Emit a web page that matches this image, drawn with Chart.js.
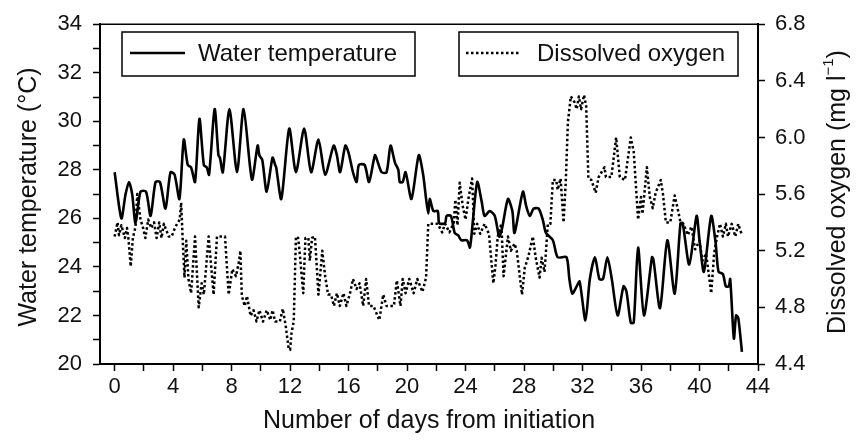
<!DOCTYPE html>
<html>
<head>
<meta charset="utf-8">
<script src="https://cdn.jsdelivr.net/npm/chart.js@4.4.1/dist/chart.umd.min.js"></script>
<style>
  html, body { margin: 0; padding: 0; background: #fff; }
  #wrap { width: 864px; height: 444px; }
</style>
</head>
<body>
<div id="wrap"><canvas id="chart" width="864" height="444"></canvas></div>
<script>
// water temperature (deg C) vs day
const tempDays = [0, 0.46, 0.75, 0.98, 1.2, 1.43, 1.77, 2.15, 2.46, 2.8, 3.1, 3.48, 3.82, 4.1, 4.43, 4.73, 5.0, 5.23, 5.5, 5.8,
  6.1, 6.3, 6.46, 6.84, 7.1, 7.2, 7.4, 7.85, 8.37, 8.82, 9.39, 9.78, 9.9, 10.1, 10.4, 10.8, 10.98, 11.05, 11.4, 11.94,
  12.4, 12.96, 13.44, 13.94, 14.4, 14.98, 15.2, 15.42, 15.78, 16.0, 16.3, 16.55, 16.7, 17.1, 17.4, 17.8, 17.95, 18.26, 18.6, 18.87,
  19.17, 19.4, 19.5, 19.7, 19.9, 20.3, 20.8, 21.1, 21.3, 21.45, 21.55, 21.8, 22.1, 22.2, 22.6, 22.7, 23.0, 23.26, 23.5, 23.7,
  24.1, 24.3, 24.5, 24.8, 25.1, 25.3, 25.65, 26.0, 26.3, 26.5, 26.9, 27.2, 27.35, 27.92, 28.15, 28.4, 28.65, 29.0, 29.3, 29.5,
  29.97, 30.3, 30.9, 31.1, 31.3, 31.6, 31.8, 32.2, 32.5, 32.85, 33.15, 33.4, 33.7, 34.0, 34.4, 34.8, 35.0, 35.3, 35.5, 35.8,
  36.2, 36.75, 36.85, 37.3, 37.8, 38.3, 38.7, 38.85, 39.3, 39.8, 40.0, 40.3, 40.8, 41.1, 41.3, 41.6, 41.8, 42.0, 42.1, 42.35,
  42.5, 42.65, 42.9];
const tempValues = [27.9, 26.0, 27.0, 27.5, 27.0, 25.8, 27.1, 27.1, 26.1, 27.5, 27.5, 26.4, 27.9, 27.8, 26.8, 29.25, 28.2, 28.1, 27.5, 30.1,
  28.2, 28.1, 27.8, 30.5, 28.6, 28.5, 27.9, 30.5, 27.9, 30.5, 27.6, 29.0, 28.6, 28.4, 27.1, 28.5, 28.2, 28.1, 26.8, 29.7,
  27.9, 29.7, 27.9, 29.25, 27.8, 29.0, 28.6, 27.9, 29.0, 28.7, 27.9, 27.5, 28.2, 28.2, 27.5, 28.6, 28.4, 27.9, 27.9, 29.0,
  28.3, 28.0, 27.5, 27.5, 27.9, 26.8, 28.6, 27.8, 26.8, 26.2, 26.8, 26.3, 26.3, 25.8, 25.8, 26.1, 26.1, 25.4, 25.3, 25.1,
  25.1, 24.8, 25.9, 27.5, 26.7, 26.1, 26.3, 26.1, 25.25, 25.6, 26.8, 26.3, 25.4, 27.1, 26.5, 26.1, 26.4, 26.4, 25.9, 25.4,
  25.1, 24.4, 24.4, 23.5, 22.9, 23.2, 23.4, 21.8, 23.5, 24.4, 23.5, 23.5, 24.4, 23.5, 22.0, 23.2, 23.0, 21.7, 21.7, 24.8,
  22.0, 24.4, 24.3, 22.3, 25.1, 22.9, 25.8, 25.8, 24.1, 26.1, 25.1, 23.8, 26.1, 25.0, 23.8, 23.7, 23.2, 23.2, 23.5, 21.05,
  22.0, 21.9, 20.5];

// dissolved oxygen (mg/l) vs day
const oxyDays = [0, 0.2, 0.3, 0.46, 0.7, 0.85, 0.95, 1.1, 1.25, 1.43, 1.55, 1.77, 1.95, 2.1, 2.3, 2.5, 2.7, 2.87, 3.05, 3.2,
  3.37, 3.7, 3.9, 4.16, 4.45, 4.55, 4.65, 4.78, 4.9, 5.05, 5.23, 5.5, 5.75, 5.95, 6.1, 6.43, 6.77, 7.0, 7.55, 7.8,
  8.05, 8.3, 8.5, 8.6, 8.7, 8.9, 9.05, 9.3, 9.5, 9.7, 9.9, 10.15, 10.4, 10.65, 10.8, 10.98, 11.3, 11.5, 11.7, 11.9,
  12.0, 12.1, 12.25, 12.4, 12.55, 12.65, 12.9, 13.05, 13.25, 13.35, 13.5, 13.7, 13.94, 14.2, 14.4, 14.6, 14.8, 15.0, 15.2, 15.4,
  15.65, 15.85, 16.1, 16.3, 16.55, 16.75, 17.0, 17.2, 17.4, 17.7, 18.1, 18.37, 18.6, 19.1, 19.3, 19.55, 19.7, 19.9, 20.15, 20.45,
  20.7, 21.05, 21.3, 21.45, 22.1, 22.4, 22.6, 22.9, 23.2, 23.3, 23.45, 23.6, 23.8, 24.0, 24.2, 24.45, 24.6, 24.8, 25.0, 25.3,
  25.6, 25.9, 26.05, 26.2, 26.45, 26.6, 26.9, 27.1, 27.35, 27.5, 27.86, 28.05, 28.3, 28.6, 28.8, 29.06, 29.2, 29.4, 29.63, 29.8,
  29.97, 30.2, 30.3, 30.5, 30.7, 30.85, 31.0, 31.2, 31.45, 31.6, 31.75, 31.9, 32.1, 32.25, 32.4, 32.6, 32.9, 33.1, 33.5, 33.6,
  33.97, 34.3, 34.55, 34.9, 35.3, 35.5, 35.8, 36.0, 36.1, 36.4, 36.6, 36.8, 37.0, 37.35, 37.5, 37.7, 38.0, 38.3, 38.5, 38.7,
  38.9, 39.2, 39.45, 39.7, 40.0, 40.2, 40.45, 40.8, 41.0, 41.2, 41.4, 41.6, 41.8, 41.95, 42.2, 42.45, 42.65, 42.9];
const oxyValues = [5.30, 5.40, 5.31, 5.38, 5.29, 5.36, 5.28, 5.09, 5.29, 5.37, 5.60, 5.42, 5.36, 5.29, 5.42, 5.36, 5.40, 5.29, 5.40, 5.29,
  5.39, 5.30, 5.30, 5.37, 5.42, 5.54, 5.29, 5.01, 5.27, 5.00, 4.90, 5.30, 4.80, 4.97, 4.89, 5.30, 4.89, 5.30, 5.30, 4.89,
  5.07, 5.02, 5.12, 5.20, 4.88, 4.81, 4.88, 4.74, 4.78, 4.70, 4.78, 4.70, 4.78, 4.71, 4.78, 4.70, 4.70, 4.79, 4.67, 4.51,
  4.50, 4.62, 4.70, 5.30, 5.29, 5.19, 4.90, 5.29, 5.29, 5.13, 5.29, 5.30, 4.89, 5.20, 5.02, 4.89, 4.89, 4.81, 4.90, 4.81,
  4.90, 4.81, 4.90, 5.00, 4.93, 4.97, 4.81, 5.00, 4.81, 4.81, 4.71, 4.89, 4.81, 4.81, 4.99, 4.81, 5.00, 4.90, 5.00, 4.90,
  5.00, 4.91, 5.01, 5.39, 5.39, 5.33, 5.39, 5.33, 5.40, 5.56, 5.38, 5.68, 5.52, 5.42, 5.57, 5.71, 5.32, 5.39, 5.32, 5.39,
  5.32, 4.97, 5.10, 5.30, 5.39, 5.02, 5.30, 5.20, 5.25, 5.20, 4.89, 5.08, 5.16, 5.30, 5.15, 5.01, 5.15, 5.05, 5.39, 5.39,
  5.70, 5.70, 5.63, 5.71, 5.40, 5.68, 6.11, 6.29, 6.25, 6.20, 6.29, 6.20, 6.30, 6.22, 5.71, 5.70, 5.61, 5.72, 5.79, 5.72,
  5.72, 6.00, 5.72, 5.70, 6.00, 5.90, 5.42, 5.58, 5.46, 5.79, 5.58, 5.50, 5.61, 5.70, 5.60, 5.40, 5.40, 5.59, 5.50, 5.40,
  5.39, 5.31, 5.37, 5.21, 5.27, 5.13, 5.18, 4.90, 5.18, 5.30, 5.39, 5.30, 5.39, 5.30, 5.39, 5.30, 5.39, 5.31];

const dayTicks = [0, 2, 4, 6, 8, 10, 12, 14, 16, 18, 20, 22, 24, 26, 28, 30, 32, 34, 36, 38, 40, 42, 44];
const tempTicks = [20, 21, 22, 23, 24, 25, 26, 27, 28, 29, 30, 31, 32, 33, 34];
const oxyTicks = [4.4, 4.8, 5.2, 5.6, 6.0, 6.4, 6.8];

const FONT = "'Liberation Sans', Arial, sans-serif";

const decorations = {
  id: 'decorations',
  afterDraw(chart) {
    const ctx = chart.ctx;
    const a = chart.chartArea;
    ctx.save();
    ctx.strokeStyle = '#000';
    ctx.fillStyle = '#111';

    // top frame line
    ctx.lineWidth = 1.5;
    ctx.beginPath();
    ctx.moveTo(a.left, a.top);
    ctx.lineTo(a.right, a.top);
    ctx.stroke();

    // legend boxes
    const ds = chart.data.datasets;
    const boxes = [
      { x: 122, w: 293, lx: 130, lw: 55, tx: 198, d: ds[0] },
      { x: 459, w: 279, lx: 466, lw: 53, tx: 537, d: ds[1] }
    ];
    ctx.font = '24px ' + FONT;
    ctx.textBaseline = 'middle';
    boxes.forEach(b => {
      ctx.lineWidth = 1.5;
      ctx.setLineDash([]);
      ctx.strokeRect(b.x, 32, b.w, 44);
      ctx.lineWidth = b.d.borderWidth;
      ctx.setLineDash(b.d.borderDash || []);
      ctx.beginPath();
      ctx.moveTo(b.lx, 53);
      ctx.lineTo(b.lx + b.lw, 53);
      ctx.stroke();
      ctx.setLineDash([]);
      ctx.fillText(b.d.label, b.tx, 54);
    });

    // axis titles
    ctx.font = '25px ' + FONT;
    ctx.textAlign = 'center';
    ctx.fillText('Number of days from initiation', (a.left + a.right) / 2, 421);

    ctx.save();
    ctx.translate(29, 197);
    ctx.rotate(-Math.PI / 2);
    ctx.fillText('Water temperature (\u00B0C)', 0, 0);
    ctx.restore();

    // right title with superscript -1
    ctx.save();
    ctx.translate(838, 192);
    ctx.rotate(-Math.PI / 2);
    ctx.textAlign = 'left';
    const main = 'Dissolved oxygen (mg l';
    const sup = '\u22121';
    ctx.font = '25px ' + FONT;
    const w1 = ctx.measureText(main).width;
    const w3 = ctx.measureText(')').width;
    ctx.font = '15px ' + FONT;
    const w2 = ctx.measureText(sup).width;
    let x = -(w1 + w2 + w3) / 2;
    ctx.font = '25px ' + FONT;
    ctx.fillText(main, x, 0);
    ctx.font = '15px ' + FONT;
    ctx.fillText(sup, x + w1, -9);
    ctx.font = '25px ' + FONT;
    ctx.fillText(')', x + w1 + w2, 0);
    ctx.restore();

    ctx.restore();
  }
};

const axisLine = { display: true, color: '#000', width: 2 };
const tickGrid = { display: true, drawOnChartArea: false, drawTicks: true, tickLength: 7, tickColor: '#000', tickWidth: 1.5, color: '#000' };

new Chart(document.getElementById('chart'), {
  type: 'line',
  data: {
    datasets: [{
      label: 'Water temperature',
      data: tempDays.map((d, i) => ({ x: d, y: tempValues[i] })),
      yAxisID: 'y',
      borderColor: '#000',
      borderWidth: 2.6,
      borderJoinStyle: 'round',
      pointRadius: 0,
      tension: 0.25,
      fill: false
    }, {
      label: 'Dissolved oxygen',
      data: oxyDays.map((d, i) => ({ x: d, y: oxyValues[i] })),
      yAxisID: 'y2',
      borderColor: '#000',
      borderWidth: 2.5,
      borderDash: [2.5, 2.5],
      borderJoinStyle: 'round',
      pointRadius: 0,
      tension: 0,
      fill: false
    }]
  },
  options: {
    responsive: false,
    animation: false,
    events: [],
    layout: { padding: { top: 20, left: 0, right: 0, bottom: 0 } },
    plugins: { legend: { display: false }, tooltip: { enabled: false } },
    scales: {
      x: {
        type: 'linear',
        min: -1,
        max: 44,
        border: axisLine,
        grid: tickGrid,
        afterBuildTicks: s => { s.ticks = dayTicks.map(v => ({ value: v })); },
        afterFit: s => { s.height = 80; },
        ticks: {
          color: '#111',
          font: { family: FONT, size: 22 },
          padding: 3,
          maxRotation: 0,
          autoSkip: false,
          callback: v => (v % 4 === 0 ? String(v) : '')
        }
      },
      y: {
        position: 'left',
        min: 20,
        max: 34,
        border: axisLine,
        grid: tickGrid,
        afterBuildTicks: s => { s.ticks = tempTicks.map(v => ({ value: v })); },
        afterFit: s => { s.width = 100; },
        ticks: {
          color: '#111',
          font: { family: FONT, size: 22 },
          padding: 11,
          autoSkip: false,
          callback: v => (v % 2 === 0 ? String(v) : '')
        }
      },
      y2: {
        position: 'right',
        min: 4.4,
        max: 6.8,
        border: axisLine,
        grid: tickGrid,
        afterBuildTicks: s => { s.ticks = oxyTicks.map(v => ({ value: v })); },
        afterFit: s => { s.width = 106; },
        ticks: {
          color: '#111',
          font: { family: FONT, size: 22 },
          padding: 10,
          autoSkip: false,
          callback: v => Number(v).toFixed(1)
        }
      }
    }
  },
  plugins: [decorations]
});
</script>
</body>
</html>
